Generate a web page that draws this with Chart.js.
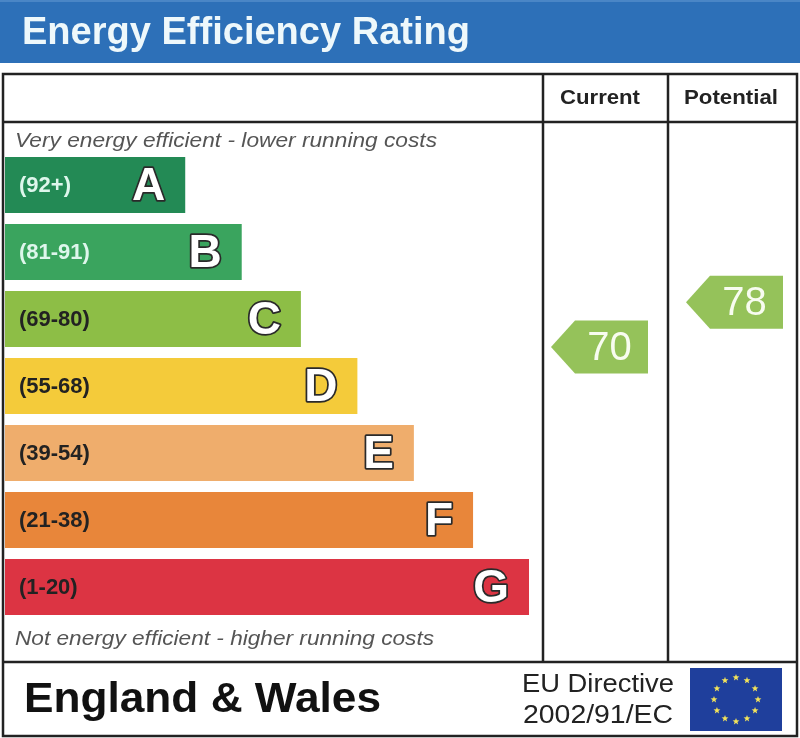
<!DOCTYPE html>
<html><head><meta charset="utf-8">
<script src="https://cdn.jsdelivr.net/npm/chart.js@4.4.1/dist/chart.umd.min.js"></script>
<style>html,body{margin:0;padding:0;background:#fff;overflow:hidden}</style>
</head><body>
<canvas id="c" width="800" height="738"></canvas>
<script>
// ---- data ----
const titleText = 'Energy Efficiency Rating';
const bandLetters = ['A', 'B', 'C', 'D', 'E', 'F', 'G'];
const bandRanges = ['(92+)', '(81-91)', '(69-80)', '(55-68)', '(39-54)', '(21-38)', '(1-20)'];
const bandLow = [92, 81, 69, 55, 39, 21, 1];
const bandHigh = [100, 91, 80, 68, 54, 38, 20];
const bandLengths = [33.5, 44, 55, 65.5, 76, 87, 97.4];
const bandColors = ['#238a55', '#3aa45e', '#8dbe46', '#f4cb3a', '#efad6c', '#e8863a', '#dc3443'];
const rangeLabelColors = ['#def6ec', '#def6ec', '#222', '#222', '#222', '#222', '#222'];
const columnHeaders = ['Current', 'Potential'];
const ratings = [70, 78];
const topNote = 'Very energy efficient - lower running costs';
const bottomNote = 'Not energy efficient - higher running costs';
const footerLeft = 'England & Wales';
const footerRight = ['EU Directive', '2002/91/EC'];

// position of a rating inside the band rows (band index units, 0 = A)
function ratingToBandPos(r) {
  let i = bandLow.findIndex(lo => r >= lo);
  if (i < 0) i = bandLow.length - 1;
  const frac = (r - bandLow[i]) / (bandHigh[i] + 1 - bandLow[i]);
  return i + 0.5 - frac;
}
const ratingPositions = ratings.map(ratingToBandPos);

const FONT = '"Liberation Sans", Arial, Helvetica, sans-serif';
function fitText(ctx, text, x, y, font, width, color) {
  ctx.save();
  ctx.font = font;
  ctx.fillStyle = color;
  ctx.textAlign = 'left';
  ctx.textBaseline = 'middle';
  const w = ctx.measureText(text).width;
  ctx.translate(x, y);
  ctx.scale(width / w, 1);
  ctx.fillText(text, 0, 0);
  ctx.restore();
}

const layout = {
  colLines: [543, 668],
  right: 797, left: 3, top: 74, headerLine: 122, footerLine: 662, bottom: 736
};

const decor = {
  id: 'decor',
  beforeDraw(chart) {
    const ctx = chart.ctx;
    ctx.save();
    ctx.fillStyle = '#fff';
    ctx.fillRect(0, 0, chart.width, chart.height);
    // title bar
    ctx.fillStyle = '#2d70b8';
    ctx.fillRect(0, 0, 800, 63);
    ctx.fillStyle = '#4a86c6';
    ctx.fillRect(0, 0, 800, 2);
    fitText(ctx, titleText, 22, 34, 'bold 38px ' + FONT, 448, '#eef8fb');
    // table lines
    ctx.strokeStyle = '#222';
    ctx.lineWidth = 2.5;
    ctx.strokeRect(layout.left, layout.top, layout.right - layout.left, layout.bottom - layout.top);
    ctx.beginPath();
    ctx.moveTo(layout.left, layout.headerLine); ctx.lineTo(layout.right, layout.headerLine);
    ctx.moveTo(layout.left, layout.footerLine); ctx.lineTo(layout.right, layout.footerLine);
    layout.colLines.forEach(x => { ctx.moveTo(x, layout.top); ctx.lineTo(x, layout.footerLine); });
    ctx.stroke();
    // headers
    fitText(ctx, columnHeaders[0], 560, 98, 'bold 21px ' + FONT, 80, '#222');
    fitText(ctx, columnHeaders[1], 684, 98, 'bold 21px ' + FONT, 94, '#222');
    // notes
    fitText(ctx, topNote, 15, 141, 'italic 21px ' + FONT, 422, '#555');
    fitText(ctx, bottomNote, 15, 639, 'italic 21px ' + FONT, 419, '#555');
    // footer
    fitText(ctx, footerLeft, 24, 700, 'bold 42px ' + FONT, 357, '#111');
    fitText(ctx, footerRight[0], 522, 685, '26px ' + FONT, 152, '#222');
    fitText(ctx, footerRight[1], 523, 716, '26px ' + FONT, 150, '#222');
    // EU flag
    ctx.fillStyle = '#1f3f9c';
    ctx.fillRect(690, 668, 92, 63);
    ctx.fillStyle = '#f3e35a';
    for (let k = 0; k < 12; k++) {
      const a = k * Math.PI / 6;
      const sx = 736 + 22 * Math.sin(a), sy = 699.5 - 22 * Math.cos(a);
      ctx.beginPath();
      for (let p = 0; p < 10; p++) {
        const rr = p % 2 === 0 ? 3.6 : 1.5;
        const aa = -Math.PI / 2 + p * Math.PI / 5;
        const px = sx + rr * Math.cos(aa), py = sy + rr * Math.sin(aa);
        if (p === 0) ctx.moveTo(px, py); else ctx.lineTo(px, py);
      }
      ctx.closePath();
      ctx.fill();
    }
    ctx.restore();
  },
  afterDatasetsDraw(chart) {
    const ctx = chart.ctx;
    const meta = chart.getDatasetMeta(0);
    ctx.save();
    ctx.textBaseline = 'middle';
    meta.data.forEach((bar, i) => {
      // range label
      ctx.font = 'bold 22px ' + FONT;
      ctx.textAlign = 'left';
      ctx.fillStyle = rangeLabelColors[i];
      ctx.fillText(bandRanges[i], chart.chartArea.left + 14, bar.y + 1);
      // letter
      ctx.font = 'bold 46px ' + FONT;
      ctx.textAlign = 'right';
      ctx.lineJoin = 'round';
      ctx.lineWidth = 3.5;
      ctx.strokeStyle = '#2a2a2a';
      ctx.strokeText(bandLetters[i], bar.x - 20, bar.y + 2);
      ctx.fillStyle = '#fff';
      ctx.fillText(bandLetters[i], bar.x - 20, bar.y + 2);
    });
    // rating arrows, placed on the band (category) scale at fractional positions
    const yScale = chart.scales.y;
    const colRights = [layout.colLines[1], layout.right];
    const rightInset = [20, 14];
    ratings.forEach((r, k) => {
      const cy = yScale.getPixelForValue(ratingPositions[k]);
      const R = colRights[k] - rightInset[k];
      const W = 97, T = 24, H = 53;
      ctx.fillStyle = '#95c25a';
      ctx.beginPath();
      ctx.moveTo(R - W + T, cy - H / 2);
      ctx.lineTo(R, cy - H / 2);
      ctx.lineTo(R, cy + H / 2);
      ctx.lineTo(R - W + T, cy + H / 2);
      ctx.lineTo(R - W, cy);
      ctx.closePath();
      ctx.fill();
      ctx.fillStyle = '#f8fcf0';
      ctx.font = '40px ' + FONT;
      ctx.textAlign = 'center';
      ctx.fillText(String(r), R - (W - T) / 2 - 2, cy + 2);
    });
    ctx.restore();
  }
};

new Chart(document.getElementById('c'), {
  type: 'bar',
  data: {
    labels: bandLetters,
    datasets: [{
      data: bandLengths,
      backgroundColor: bandColors,
      borderWidth: 0,
      categoryPercentage: 1,
      barPercentage: 56 / 67
    }]
  },
  options: {
    indexAxis: 'y',
    responsive: false,
    animation: false,
    events: [],
    layout: { padding: { top: 151.5, bottom: 117.5, left: 5, right: 257 } },
    plugins: { legend: { display: false }, tooltip: { enabled: false }, title: { display: false } },
    scales: {
      x: { type: 'linear', min: 0, max: 100, display: false },
      y: { type: 'category', display: false, offset: true }
    }
  },
  plugins: [decor]
});
</script>
</body></html>
